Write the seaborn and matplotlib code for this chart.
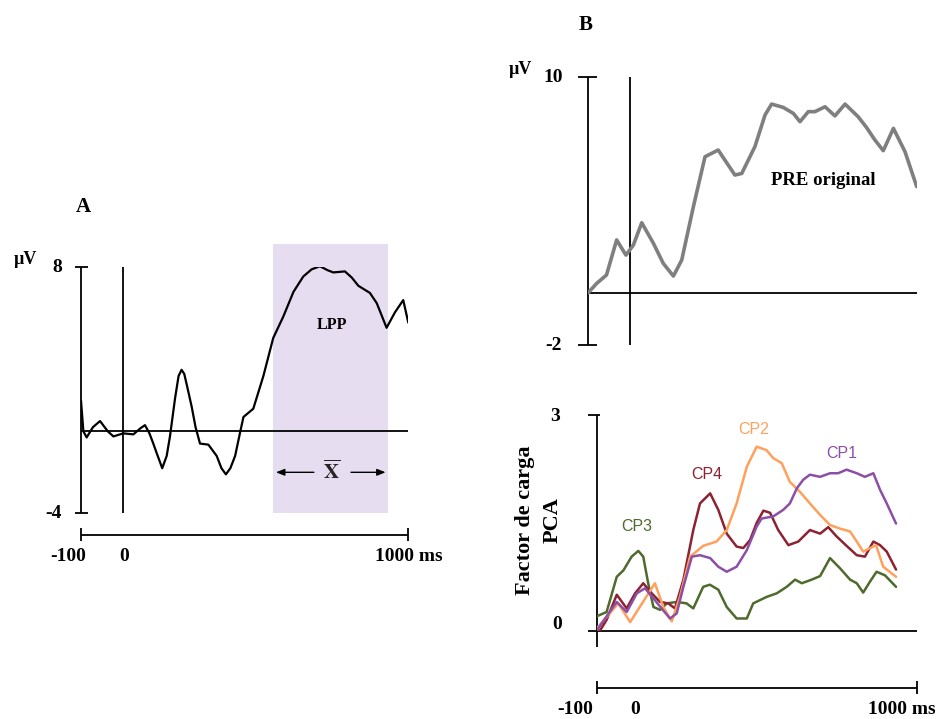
import seaborn as sns
import matplotlib.pyplot as plt
import numpy as np

sns.set_style("white")
plt.rcParams["font.family"] = ["Liberation Serif", "DejaVu Serif"]
plt.rcParams["mathtext.fontset"] = "stix"
plt.rcParams["lines.solid_joinstyle"] = "round"
plt.rcParams["lines.solid_capstyle"] = "round"

# ---- data ----
# panel A: grand average ERP (uV)
a_time = [-100, -92, -81, -60, -36, -10, 9, 42, 76, 100, 115, 130, 143, 154, 173, 188,
          199, 216, 228, 238, 247, 255, 272, 285, 300, 328, 356, 372, 387, 402, 418,
          434, 446, 479, 513, 546, 580, 614, 647, 675, 703, 730, 748, 787, 810, 832,
          871, 894, 927, 955, 983, 1000]
a_uv = [1.5, 0.0, -0.3, 0.2, 0.5, 0.0, -0.25, -0.1, -0.15, 0.15, 0.3, -0.1, -0.6,
        -1.05, -1.8, -1.2, -0.25, 1.6, 2.7, 3.0, 2.8, 2.3, 1.2, 0.2, -0.6, -0.65, -1.2,
        -1.8, -2.1, -1.8, -1.2, -0.1, 0.7, 1.1, 2.7, 4.55, 5.6, 6.8, 7.55, 7.9, 8.05,
        7.85, 7.75, 7.8, 7.5, 7.1, 6.75, 6.25, 5.05, 5.8, 6.4, 5.3]
lpp_window = (546, 933)

# panel B top: original ERP
b_time = [-100, -72, -39, -5, 26, 51, 79, 118, 151, 185, 213, 252, 291, 335, 391, 414,
          458, 492, 514, 553, 587, 609, 637, 659, 693, 726, 760, 804, 832, 860, 888,
          922, 961, 1000]
b_uv = [0.35, 0.76, 1.14, 2.71, 2.03, 2.48, 3.48, 2.56, 1.66, 1.09, 1.81, 4.20, 6.44,
        6.74, 5.62, 5.69, 6.89, 8.31, 8.80, 8.65, 8.38, 8.01, 8.46, 8.46, 8.68, 8.27,
        8.80, 8.23, 7.75, 7.19, 6.71, 7.71, 6.66, 5.10]

# panel B bottom: PCA factor loadings
cp3_t = [-100, -66, -31, -8, 20, 43, 60, 77, 95, 118, 141, 175, 209, 232, 266, 289,
         318, 347, 381, 416, 438, 484, 519, 553, 582, 605, 639, 668, 702, 736, 771,
         794, 816, 839, 862, 891, 929]
cp3_v = [0.2, 0.26, 0.75, 0.84, 1.03, 1.11, 1.03, 0.66, 0.33, 0.29, 0.38, 0.40, 0.38,
         0.31, 0.61, 0.64, 0.57, 0.33, 0.17, 0.17, 0.38, 0.47, 0.52, 0.61, 0.71, 0.66,
         0.71, 0.76, 1.01, 0.87, 0.71, 0.66, 0.53, 0.68, 0.82, 0.77, 0.61]
cp4_t = [-100, -89, -66, -31, 3, 32, 60, 89, 118, 146, 169, 198, 232, 255, 290, 318,
         347, 381, 404, 427, 450, 473, 496, 524, 559, 593, 633, 668, 696, 725, 759,
         794, 822, 851, 874, 897, 929]
cp4_v = [0.0, 0.0, 0.15, 0.50, 0.31, 0.52, 0.66, 0.52, 0.40, 0.38, 0.31, 0.71, 1.40,
         1.77, 1.91, 1.68, 1.35, 1.17, 1.15, 1.26, 1.50, 1.67, 1.64, 1.40, 1.19, 1.24,
         1.40, 1.35, 1.44, 1.31, 1.18, 1.05, 1.03, 1.24, 1.19, 1.10, 0.85]
cp2_t = [-100, -26, 15, 100, 129, 158, 186, 221, 266, 312, 347, 381, 416, 450, 484,
         507, 536, 564, 599, 633, 668, 702, 736, 771, 794, 816, 860, 885, 929]
cp2_v = [0.03, 0.38, 0.12, 0.66, 0.33, 0.13, 0.47, 1.03, 1.18, 1.24, 1.40, 1.77, 2.28,
         2.56, 2.51, 2.40, 2.33, 2.07, 1.93, 1.77, 1.61, 1.47, 1.42, 1.38, 1.24, 1.10,
         1.19, 0.89, 0.75]
cp1_t = [-100, -66, -31, 3, 38, 66, 95, 123, 152, 175, 198, 227, 255, 290, 318, 347,
         381, 416, 450, 467, 507, 541, 564, 588, 610, 633, 668, 702, 730, 759, 794,
         822, 851, 874, 897, 929]
cp1_v = [0.0, 0.2, 0.40, 0.26, 0.52, 0.59, 0.45, 0.31, 0.17, 0.24, 0.61, 1.03, 1.05,
         1.01, 0.89, 0.82, 0.89, 1.12, 1.45, 1.56, 1.59, 1.68, 1.77, 1.98, 2.10, 2.17,
         2.14, 2.19, 2.19, 2.24, 2.19, 2.14, 2.19, 1.96, 1.77, 1.49]

components = [
    ("CP3", cp3_t, cp3_v, "#4e6a2c", (37, 1.45)),
    ("CP4", cp4_t, cp4_v, "#8c2232", (278, 2.17)),
    ("CP2", cp2_t, cp2_v, "#ffa05c", (438, 2.80)),
    ("CP1", cp1_t, cp1_v, "#8b4fa6", (742, 2.47)),
]

onset = 40  # where the stimulus-onset line sits on the drawn time scale

W, H = 945, 719
fig = plt.figure(figsize=(W / 100, H / 100), dpi=100)


def px_axes(x0, x1, y0, y1):
    ax = fig.add_axes([x0 / W, 1 - y1 / H, (x1 - x0) / W, (y1 - y0) / H])
    ax.set_axis_off()
    return ax


bold = dict(fontweight="bold", color="black")
axis_kw = dict(color="black", lw=1.3, clip_on=False)

# ---------------- panel A ----------------
ax = px_axes(81, 408.3, 267.3, 513.3)
ax.set_xlim(-100, 1000)
ax.set_ylim(-4, 8)
ax.axvspan(*lpp_window, ymin=0, ymax=(9.15 + 4) / 12, color="#e7ddf0", lw=0,
           clip_on=False, zorder=0)
ax.vlines([-100, onset], -4, 8, **axis_kw)
ax.hlines([8, -4], -120, -76, **axis_kw)
ax.hlines(0, -100, 1000, **axis_kw)
sns.lineplot(x=a_time, y=a_uv, ax=ax, color="black", lw=1.6, estimator=None)
ax.set_axis_off()
# time scale bar
ax.hlines(-5.04, -100, 1000, **axis_kw)
ax.vlines([-100, 1000], -5.37, -4.71, **axis_kw)
ax.text(-143, -6.1, "-100", ha="center", va="center", fontsize=14, **bold)
ax.text(44, -6.1, "0", ha="center", va="center", fontsize=14, **bold)
ax.text(888, -6.1, "1000 ms", ha="left", va="center", fontsize=14, **bold)
ax.text(-164, 8, "8", ha="right", va="center", fontsize=14, **bold)
ax.text(-164, -4, "-4", ha="right", va="center", fontsize=14, **bold)
ax.text(-288, 8.4, "µV", ha="center", va="center", fontsize=13, **bold)
ax.text(-93, 10.95, "A", ha="center", va="center", fontsize=15, **bold)
ax.text(742, 5.2, "LPP", ha="center", va="center", fontsize=11.5, **bold)
ax.text(742, -2.0, r"$\overline{\mathbf{X}}$", ha="center", va="center", fontsize=15)
arrow = dict(arrowstyle="-|>,head_length=0.5,head_width=0.2", color="black", lw=1.0)
ax.annotate("", xy=(lpp_window[0], -2.0), xytext=(692, -2.0), arrowprops=arrow,
            annotation_clip=False)
ax.annotate("", xy=(lpp_window[1], -2.0), xytext=(798, -2.0), arrowprops=arrow,
            annotation_clip=False)

# ---------------- panel B, top ----------------
ax = px_axes(588.3, 916.7, 77.3, 345)
ax.set_xlim(-100, 1000)
ax.set_ylim(-2, 10)
ax.vlines([-100, onset], -2, 10, **axis_kw)
ax.hlines([10, -2], -134, -71, **axis_kw)
ax.hlines(0.35, -100, 1000, **axis_kw)
sns.lineplot(x=b_time, y=b_uv, ax=ax, color="#7f7f7f", lw=2.6, estimator=None)
ax.set_axis_off()
ax.text(-184, 10, "10", ha="right", va="center", fontsize=14, **bold)
ax.text(-189, -2, "-2", ha="right", va="center", fontsize=14, **bold)
ax.text(-329, 10.33, "µV", ha="center", va="center", fontsize=13, **bold)
ax.text(-108, 12.34, "B", ha="center", va="center", fontsize=15, **bold)
ax.text(687, 5.39, "PRE original", ha="center", va="center", fontsize=13.5, **bold)

# ---------------- panel B, bottom ----------------
ax = px_axes(596.7, 916.7, 415, 630.7)
ax.set_xlim(-100, 1000)
ax.set_ylim(0, 3)
ax.vlines(-100, -0.22, 3, **axis_kw)
ax.hlines(3, -129, -88, **axis_kw)
ax.hlines(0, -129, 1000, **axis_kw)
for name, t, v, col, (lx, ly) in components:
    sns.lineplot(x=t, y=v, ax=ax, color=col, lw=1.8, estimator=None)
    ax.text(lx, ly, name, ha="center", va="center", fontsize=11.5, color=col,
            family=["Liberation Sans Narrow", "Liberation Sans", "DejaVu Sans"])
ax.set_axis_off()
ax.hlines(-0.79, -100, 1000, **axis_kw)
ax.vlines([-100, 1000], -0.88, -0.70, **axis_kw)
ax.text(-174, -1.10, "-100", ha="center", va="center", fontsize=14, **bold)
ax.text(32, -1.10, "0", ha="center", va="center", fontsize=14, **bold)
ax.text(834, -1.10, "1000 ms", ha="left", va="center", fontsize=14, **bold)
ax.text(-226, 2.98, "3", ha="right", va="center", fontsize=14, **bold)
ax.text(-220, 0.08, "0", ha="right", va="center", fontsize=14, **bold)
ax.text(-346, 1.54, "Factor de carga", rotation=90, ha="center", va="center",
        fontsize=16, **bold)
ax.text(-250, 1.54, "PCA", rotation=90, ha="center", va="center", fontsize=16, **bold)

fig.savefig("out.png", dpi=100)
